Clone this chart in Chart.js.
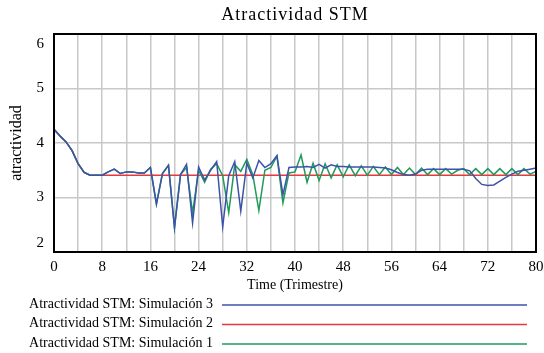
<!DOCTYPE html>
<html>
<head>
<meta charset="utf-8">
<script src="https://cdn.jsdelivr.net/npm/chart.js@4/dist/chart.umd.min.js"></script>
<style>
  html, body { margin: 0; padding: 0; background: #fff; }
  #wrap { width: 544px; height: 353px; }
</style>
</head>
<body>
<div id="wrap"><canvas id="atractividadChart" width="544" height="353"></canvas></div>
<script>
// data
const chartTitle = 'Atractividad STM';
const xTitle = 'Time (Trimestre)';
const yTitle = 'atractividad';
const trimestres = Array.from({ length: 81 }, (_, i) => i);
const xTickLabels = [0, 8, 16, 24, 32, 40, 48, 56, 64, 72, 80];
const yTickLabels = [2, 3, 4, 5, 6];

const simulacion3 = [
  4.25, 4.13, 4.02, 3.86, 3.62, 3.46, 3.41, 3.41, 3.41, 3.47,
  3.52, 3.44, 3.47, 3.47, 3.45, 3.45, 3.55, 2.88, 3.44, 3.59,
  2.45, 3.42, 3.61, 2.53, 3.56, 3.32, 3.50, 3.66, 2.46, 3.40,
  3.66, 2.75, 3.63, 3.36, 3.68, 3.55, 3.62, 3.77, 3.05, 3.55,
  3.56, 3.56, 3.57, 3.55, 3.61, 3.54, 3.60, 3.57, 3.57, 3.56,
  3.56, 3.56, 3.56, 3.56, 3.55, 3.54, 3.51, 3.46, 3.42, 3.41,
  3.43, 3.50, 3.52, 3.52, 3.52, 3.52, 3.52, 3.52, 3.52, 3.49,
  3.35, 3.24, 3.22, 3.23, 3.30, 3.37, 3.43, 3.48, 3.50, 3.52,
  3.54
];

const simulacion2 = [
  4.25, 4.13, 4.02, 3.86, 3.62, 3.46, 3.41, 3.41, 3.41, 3.41,
  3.41, 3.41, 3.41, 3.41, 3.41, 3.41, 3.41, 3.41, 3.41, 3.41,
  3.41, 3.41, 3.41, 3.41, 3.41, 3.41, 3.41, 3.41, 3.41, 3.41,
  3.41, 3.41, 3.41, 3.41, 3.41, 3.41, 3.41, 3.41, 3.41, 3.41,
  3.41, 3.41, 3.41, 3.41, 3.41, 3.41, 3.41, 3.41, 3.41, 3.41,
  3.41, 3.41, 3.41, 3.41, 3.41, 3.41, 3.41, 3.41, 3.41, 3.41,
  3.41, 3.41, 3.41, 3.41, 3.41, 3.41, 3.41, 3.41, 3.41, 3.41,
  3.41, 3.41, 3.41, 3.41, 3.41, 3.41, 3.41, 3.41, 3.41, 3.41,
  3.41
];

const simulacion1 = [
  4.25, 4.13, 4.02, 3.86, 3.62, 3.46, 3.41, 3.41, 3.41, 3.47,
  3.52, 3.44, 3.47, 3.47, 3.45, 3.45, 3.55, 2.88, 3.44, 3.59,
  2.45, 3.42, 3.55, 2.72, 3.50, 3.28, 3.52, 3.62, 3.40, 2.72,
  3.60, 3.48, 3.70, 3.42, 2.76, 3.50, 3.55, 3.76, 2.90, 3.45,
  3.47, 3.78, 3.28, 3.63, 3.31, 3.62, 3.36, 3.60, 3.38, 3.60,
  3.40, 3.58, 3.41, 3.57, 3.42, 3.56, 3.42, 3.55, 3.42, 3.54,
  3.42, 3.54, 3.42, 3.53, 3.42, 3.53, 3.43, 3.50, 3.53, 3.42,
  3.53, 3.42, 3.53, 3.42, 3.53, 3.42, 3.53, 3.42, 3.53, 3.43,
  3.48
];

const serif = '"Liberation Serif", "Times New Roman", serif';

const legendItems = [
  { label: 'Atractividad STM: Simulación 3', color: '#3d52aa' },
  { label: 'Atractividad STM: Simulación 2', color: '#e8383d' },
  { label: 'Atractividad STM: Simulación 1', color: '#1e9a5a' }
];

function points(values) {
  return trimestres.map((t, i) => ({ x: t, y: values[i] }));
}

// frame, y labels (kept inside the frame at the ends), title and legend, Vensim style
const vensimDecor = {
  id: 'vensimDecor',
  afterDraw(chart) {
    const { ctx, chartArea: a, scales } = chart;
    ctx.save();
    ctx.strokeStyle = '#000';
    ctx.lineWidth = 2;
    ctx.strokeRect(a.left, a.top, a.right - a.left, a.bottom - a.top);

    ctx.fillStyle = '#000';
    ctx.font = '15px ' + serif;
    ctx.textAlign = 'right';
    ctx.textBaseline = 'middle';
    yTickLabels.forEach(v => {
      let py = scales.y.getPixelForValue(v);
      py = Math.min(Math.max(py, a.top + 10), a.bottom - 9);
      ctx.fillText(String(v), a.left - 10, py);
    });

    ctx.textAlign = 'center';
    ctx.font = '18px ' + serif;
    ctx.letterSpacing = '1px';
    ctx.fillText(chartTitle, (a.left + a.right) / 2, 15);

    ctx.font = '14px ' + serif;
    ctx.letterSpacing = '0px';
    ctx.textAlign = 'right';
    legendItems.forEach((item, i) => {
      const y = 304 + i * 19.5;
      ctx.fillStyle = '#000';
      ctx.fillText(item.label, 213, y);
      ctx.strokeStyle = item.color;
      ctx.lineWidth = 1.5;
      ctx.beginPath();
      ctx.moveTo(222, y + 1);
      ctx.lineTo(527, y + 1);
      ctx.stroke();
    });
    ctx.restore();
  }
};

const ctx = document.getElementById('atractividadChart').getContext('2d');

new Chart(ctx, {
  type: 'line',
  data: {
    datasets: [
      { label: legendItems[0].label, data: points(simulacion3), borderColor: legendItems[0].color },
      { label: legendItems[2].label, data: points(simulacion1), borderColor: legendItems[2].color },
      { label: legendItems[1].label, data: points(simulacion2), borderColor: legendItems[1].color }
    ]
  },
  options: {
    responsive: false,
    animation: false,
    elements: {
      line: { borderWidth: 1.5, tension: 0, fill: false },
      point: { radius: 0 }
    },
    layout: { padding: { top: 34, left: 0, right: 8, bottom: 57 } },
    plugins: {
      legend: { display: false },
      title: { display: false },
      tooltip: { enabled: false }
    },
    scales: {
      x: {
        type: 'linear',
        min: 0,
        max: 80,
        afterFit: scale => {
          scale.height = 44;
          scale.paddingLeft = 0;
          scale.paddingRight = 0;
        },
        border: { display: false },
        grid: { color: '#c8c8c8', lineWidth: 1.5, drawTicks: false },
        ticks: {
          stepSize: 4,
          autoSkip: false,
          maxRotation: 0,
          padding: 6,
          color: '#000',
          font: { family: serif, size: 15 },
          callback: v => xTickLabels.includes(v) ? String(v) : ''
        },
        title: {
          display: true,
          text: xTitle,
          color: '#000',
          font: { family: serif, size: 14 },
          padding: { top: 0, bottom: 2 }
        }
      },
      y: {
        min: 2,
        max: 6,
        afterFit: scale => { scale.width = 54; },
        border: { display: false },
        grid: { color: '#c8c8c8', lineWidth: 1.5, drawTicks: false },
        ticks: { stepSize: 1, display: false },
        title: {
          display: true,
          text: yTitle,
          color: '#000',
          font: { family: serif, size: 16 },
          padding: { top: 7, bottom: 0 }
        }
      }
    }
  },
  plugins: [vensimDecor]
});
</script>
</body>
</html>
